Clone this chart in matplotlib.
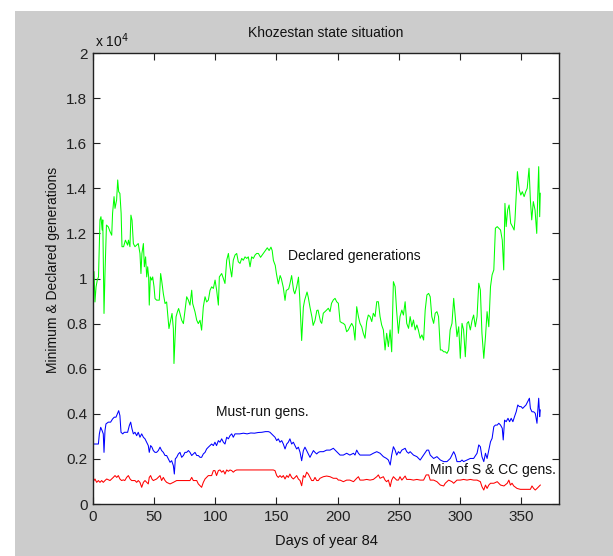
import matplotlib
matplotlib.use("Agg")
import matplotlib.pyplot as plt
from matplotlib.patches import Rectangle
from matplotlib.ticker import FuncFormatter
from matplotlib import font_manager

# ---------------- data ----------------
green_days = [0.8, 1.6, 2.5, 3.5, 4.5, 5.0, 5.7, 6.5, 7.5, 8.0, 9.0, 9.8, 11.0, 12.5, 14.0, 15.3, 16.0, 17.2,
              18.0, 19.3, 20.2, 21.0, 22.0, 23.0, 23.7, 25.0, 26.5, 28.3, 29.0, 30.2, 31.0, 31.9, 33.0, 34.3,
              35.7, 37.0, 38.4, 39.2, 40.0, 41.2, 42.0, 43.0, 43.9, 44.7, 45.5, 46.0, 46.9, 48.0, 48.8, 49.9,
              50.7, 52.0, 54.2, 55.3, 56.1, 57.5, 58.9, 60.2, 61.0, 62.1, 63.5, 64.6, 65.7, 66.2, 67.0, 67.9,
              69.0, 70.0, 71.1, 72.5, 73.9, 75.2, 76.6, 78.0, 79.3, 80.7, 81.5, 83.4, 84.8, 86.1, 87.5, 88.8,
              90.2, 91.6, 92.9, 94.3, 95.7, 97.0, 98.4, 99.8, 101.1, 102.5, 103.3, 105.2, 106.6, 107.9, 109.3,
              110.7, 112.0, 113.4, 114.7, 116.1, 117.5, 118.8, 120.2, 121.6, 122.9, 124.3, 125.7, 127.0, 128.4,
              129.7, 131.1, 132.5, 133.8, 135.2, 137.0, 139.0, 141.0, 142.5, 144.0, 145.5, 146.5, 147.5, 149.0,
              150.0, 151.5, 153.0, 154.0, 155.6, 157.0, 158.0, 160.0, 161.0, 162.4, 164.0, 165.0, 166.5, 168.0,
              169.0, 170.6, 172.0, 173.0, 175.0, 176.0, 177.4, 179.0, 180.0, 181.5, 183.0, 184.0, 186.0, 187.0,
              188.3, 189.7, 191.0, 192.4, 193.8, 195.0, 196.5, 197.9, 199.2, 200.6, 202.0, 203.3, 204.7, 206.0,
              207.4, 208.8, 210.0, 211.5, 212.9, 214.2, 215.6, 217.0, 218.3, 219.7, 221.0, 222.4, 223.8, 225.1,
              226.5, 227.9, 229.2, 230.6, 232.0, 233.3, 234.7, 236.0, 237.4, 238.8, 240.1, 241.5, 242.9, 244.2,
              245.6, 247.0, 248.3, 249.7, 251.0, 252.5, 253.8, 255.2, 256.5, 258.0, 259.3, 260.7, 262.0, 263.4,
              264.8, 266.0, 267.5, 268.9, 270.3, 271.6, 273.0, 274.4, 275.7, 277.0, 278.5, 279.8, 281.2, 282.5,
              284.0, 285.3, 286.7, 288.0, 289.4, 290.8, 292.0, 293.5, 294.9, 296.2, 297.6, 299.0, 300.3, 301.7,
              303.0, 304.4, 305.8, 307.0, 308.5, 310.0, 311.2, 312.6, 314.0, 315.4, 316.7, 318.0, 319.5, 320.9,
              322.2, 323.6, 325.0, 326.3, 327.7, 329.0, 330.5, 331.8, 333.2, 334.6, 335.8, 336.8, 337.8, 339.0,
              340.2, 341.5, 343.0, 344.3, 345.0, 346.0, 347.0, 348.5, 349.8, 351.0, 352.5, 353.8, 355.0, 356.5,
              357.6, 358.7, 360.0, 361.4, 362.8, 363.6, 364.4, 365.2, 365.7]
green_vals = [10300, 8960, 9630, 9930, 10070, 11100, 12600, 12740, 12150, 12600, 8450, 10220, 12370, 12290, 12070,
              11920, 12890, 13630, 13110, 13480, 14370, 13850, 13770, 12890, 11410, 11410, 11700, 11480, 11700,
              11410, 12810, 12590, 11550, 11410, 11480, 11550, 11110, 10220, 11110, 11550, 10520, 10960, 10070,
              10520, 10070, 8820, 10070, 9930, 10070, 9630, 9110, 9040, 9040, 10220, 9930, 9330, 8890, 8960, 8450,
              7780, 8150, 8450, 7780, 6230, 7260, 8300, 8520, 8670, 8450, 8150, 8000, 8590, 9190, 9040, 8820, 9480,
              8890, 8520, 8150, 8000, 8150, 7710, 8740, 9190, 8960, 9040, 9480, 9630, 9560, 9930, 9480, 8820,
              10070, 10220, 10000, 9780, 10810, 11110, 10520, 10070, 10810, 11040, 11110, 10740, 10670, 10890,
              10810, 10960, 10890, 10960, 10520, 10960, 10890, 11040, 11110, 11110, 10940, 11090, 11240, 11360,
              11240, 11390, 11240, 10800, 10580, 10200, 9760, 10130, 9990, 9600, 9030, 9470, 9540, 9760, 10130,
              9470, 9320, 9620, 10060, 9170, 7250, 8730, 9030, 9400, 9170, 8730, 8290, 7920, 8140, 8580, 8600,
              8090, 8010, 8460, 8530, 8600, 8680, 8530, 8900, 9050, 9120, 8970, 8900, 8090, 8040, 8010, 7940, 7640,
              7720, 7860, 8010, 7860, 7270, 8750, 8310, 8010, 7860, 7570, 7350, 8090, 8380, 8310, 8090, 8460, 8310,
              8970, 8970, 8310, 7940, 7720, 6830, 7570, 6980, 7720, 6750, 9860, 9640, 8530, 7570, 8310, 8600, 8380,
              8970, 8010, 7790, 8310, 7860, 8160, 7720, 7940, 7720, 7350, 7500, 7270, 8600, 9270, 9340, 9190, 8310,
              8010, 8460, 8530, 8310, 6830, 6830, 6750, 6750, 6680, 6830, 7720, 8010, 9120, 8310, 7420, 7860, 6460,
              8010, 7720, 6530, 8010, 8090, 7720, 8160, 8380, 7860, 8310, 9790, 9490, 7570, 6460, 7420, 8530, 7860,
              9640, 10160, 10380, 12230, 12300, 12230, 12150, 11710, 10380, 13330, 12300, 13040, 13260, 12450,
              12300, 12150, 12600, 13700, 14740, 13930, 13700, 13850, 13630, 13850, 14000, 14890, 13480, 12600,
              13410, 13040, 12000, 13630, 14960, 12740, 13780]

blue_days = [0.8, 3.0, 4.4, 5.2, 6.3, 7.4, 8.4, 9.0, 9.8, 10.6, 12.5, 14.4, 16.0, 17.4, 18.8, 19.9, 21.0, 22.0,
             22.9, 24.3, 25.6, 27.0, 28.3, 29.7, 30.8, 31.9, 33.0, 34.3, 35.7, 37.0, 38.4, 39.8, 41.2, 42.5,
             43.9, 45.2, 46.0, 47.1, 48.2, 49.3, 50.7, 52.0, 53.4, 54.8, 56.1, 57.5, 58.9, 60.2, 61.6, 63.0,
             64.3, 65.7, 66.5, 67.3, 68.4, 69.8, 71.1, 72.5, 73.9, 75.2, 76.6, 78.0, 79.3, 80.7, 82.0, 83.4,
             84.8, 86.1, 87.5, 88.8, 90.2, 91.6, 92.9, 94.3, 95.7, 97.0, 98.4, 99.7, 101.0, 102.5, 103.8, 105.2,
             106.6, 107.9, 109.3, 110.7, 112.0, 113.4, 114.7, 116.1, 117.5, 120.0, 123.0, 126.0, 129.0, 132.0,
             135.0, 138.0, 141.0, 143.4, 144.7, 146.0, 147.4, 148.8, 150.2, 151.5, 152.9, 154.3, 155.6, 157.0,
             158.4, 159.7, 161.0, 162.4, 163.8, 165.2, 166.5, 167.9, 169.3, 170.6, 172.0, 173.3, 174.7, 176.0,
             177.4, 178.8, 180.2, 181.5, 182.9, 184.2, 185.6, 188.3, 191.0, 193.8, 196.5, 198.0, 199.2, 200.6,
             202.0, 204.7, 207.4, 210.0, 213.0, 214.2, 215.6, 217.0, 218.3, 221.0, 223.8, 226.5, 229.2, 232.0,
             234.7, 237.4, 240.0, 241.5, 243.0, 244.2, 245.6, 247.0, 248.3, 249.7, 251.0, 252.5, 255.2, 256.5,
             258.0, 259.3, 262.0, 264.8, 267.5, 270.3, 273.0, 274.4, 275.7, 278.5, 281.2, 284.0, 286.7, 289.4,
             292.1, 294.9, 296.2, 297.6, 300.3, 301.7, 303.0, 305.8, 308.5, 311.2, 314.0, 315.4, 316.7, 318.0,
             319.5, 320.9, 322.2, 323.6, 325.0, 326.3, 327.7, 329.0, 330.5, 331.8, 333.2, 334.6, 335.4, 336.5,
             337.8, 339.3, 340.6, 341.9, 343.3, 344.6, 346.0, 347.3, 348.6, 350.0, 351.3, 352.7, 354.0, 355.4,
             356.8, 357.6, 358.9, 360.3, 361.6, 363.0, 363.5, 364.4, 365.2, 365.7]
blue_vals = [2660, 2660, 2660, 3110, 3400, 3260, 3110, 2290, 3260, 3550, 3630, 3630, 3770, 3850, 3850, 4000, 4140,
             3920, 3180, 3110, 3180, 3180, 3180, 3480, 3630, 3330, 3110, 3180, 3030, 3180, 2960, 3110, 2960, 2890,
             2740, 2590, 2290, 2590, 2520, 2370, 2290, 2290, 2370, 2520, 2370, 2290, 2150, 2150, 2000, 1850, 1920,
             1700, 1330, 2000, 2070, 2220, 2290, 2070, 2150, 2290, 2290, 2370, 2290, 2150, 2220, 2290, 2150, 2150,
             2070, 2070, 2220, 2290, 2440, 2520, 2590, 2660, 2590, 2740, 2590, 2810, 2740, 2890, 2740, 2660, 2960,
             2890, 3030, 3110, 2960, 3110, 3110, 3110, 3140, 3110, 3150, 3140, 3170, 3180, 3210, 3210, 3180, 3110,
             3030, 2960, 2810, 2890, 2740, 2810, 2660, 2440, 2660, 2740, 2890, 2660, 2740, 2590, 2440, 2520, 2290,
             1920, 2370, 2520, 2370, 2220, 2070, 2220, 2370, 2290, 2220, 2290, 2320, 2320, 2390, 2390, 2470, 2390,
             2320, 2250, 2170, 2170, 2250, 2170, 2250, 2170, 2390, 2250, 2170, 2170, 2170, 2170, 2250, 2320, 2250,
             2100, 2020, 1950, 1730, 2170, 2540, 2390, 2170, 2320, 2250, 2390, 2470, 2320, 2250, 2320, 2170, 2100,
             1950, 2170, 2390, 2390, 2170, 2020, 2100, 1950, 1880, 1880, 2020, 2320, 2170, 1880, 1880, 1950, 1880,
             1950, 2020, 2020, 2250, 2620, 2540, 2100, 1880, 2250, 2020, 2390, 2760, 2910, 3430, 3500, 3500, 3580,
             3500, 3360, 2840, 3720, 3650, 3800, 3650, 3800, 3650, 3870, 4090, 4390, 4320, 4320, 4240, 4320, 4390,
             4540, 4690, 4240, 4090, 4090, 4020, 3580, 4020, 4690, 3870, 4170]

red_days = [0.8, 1.6, 3.0, 4.4, 5.7, 7.1, 8.4, 9.8, 11.2, 13.9, 16.6, 18.0, 19.4, 20.7, 22.0, 23.4, 24.8, 26.0,
            27.5, 28.9, 30.3, 31.6, 33.0, 34.3, 35.7, 37.0, 38.4, 39.8, 41.2, 42.5, 43.9, 45.2, 46.0, 47.1, 48.2,
            49.3, 52.0, 54.8, 56.1, 57.5, 58.9, 60.2, 63.0, 65.7, 68.4, 71.1, 73.9, 76.6, 79.3, 80.7, 82.0, 84.8,
            86.1, 87.5, 88.8, 90.2, 91.6, 92.9, 94.3, 95.7, 97.0, 98.4, 99.7, 101.0, 102.5, 103.8, 105.2, 106.6,
            107.9, 109.3, 110.7, 112.0, 113.4, 114.7, 116.1, 117.5, 125.0, 135.0, 147.4, 148.8, 150.2, 151.5,
            152.9, 154.3, 155.6, 157.0, 158.4, 159.7, 161.0, 162.4, 163.8, 165.2, 166.5, 167.9, 169.3, 170.6,
            172.0, 173.3, 174.7, 176.0, 177.4, 178.8, 180.2, 181.5, 182.9, 184.2, 185.6, 188.3, 191.0, 193.8,
            196.5, 199.2, 200.6, 202.0, 204.7, 207.4, 210.0, 213.0, 215.6, 217.0, 218.3, 221.0, 223.8, 226.5,
            229.2, 232.0, 233.3, 234.7, 237.4, 238.8, 240.0, 241.5, 243.0, 244.2, 245.6, 248.3, 249.7, 251.0,
            252.5, 255.2, 256.5, 259.3, 262.0, 264.8, 267.5, 270.3, 272.4, 274.4, 275.7, 278.5, 281.2, 284.0,
            286.7, 288.0, 289.4, 290.8, 293.5, 294.9, 296.2, 297.6, 300.3, 303.0, 305.8, 308.5, 311.2, 314.0,
            316.7, 318.0, 319.5, 320.9, 322.2, 323.6, 325.0, 327.7, 330.5, 333.2, 336.0, 338.7, 340.0, 341.3,
            342.6, 344.0, 346.7, 349.4, 352.2, 354.9, 357.6, 358.9, 360.3, 361.6, 363.0, 364.4, 365.7]
red_vals = [1040, 1110, 960, 1040, 960, 1040, 960, 1040, 1110, 1040, 1180, 1260, 1180, 1260, 1110, 1040, 1070, 1040,
            1180, 1260, 1110, 1040, 1040, 1040, 960, 1040, 960, 740, 960, 1040, 960, 890, 1180, 1260, 1110, 1040,
            1110, 1260, 1040, 1180, 1040, 960, 890, 960, 1040, 1040, 1040, 1040, 1040, 1180, 1040, 1040, 890, 810,
            740, 960, 1110, 1180, 1260, 1260, 1260, 1480, 1480, 1260, 1480, 1510, 1410, 1480, 1330, 1510, 1450,
            1510, 1480, 1410, 1480, 1510, 1510, 1510, 1510, 1480, 1260, 1180, 1260, 1180, 1260, 1110, 1260, 1180,
            1330, 1180, 1110, 1180, 1260, 1110, 1040, 810, 1260, 1180, 1410, 1330, 1180, 1040, 1040, 1180, 1040,
            1040, 1140, 1210, 1240, 1210, 1140, 1140, 1060, 1060, 990, 1060, 1060, 990, 1140, 1210, 1060, 1060,
            1090, 1060, 1090, 1210, 1290, 1140, 1210, 1060, 990, 1060, 770, 1060, 1210, 1060, 1060, 1210, 1060,
            1240, 1090, 1090, 1060, 1090, 1060, 1060, 1290, 1290, 1060, 1060, 990, 840, 800, 920, 990, 1060, 990,
            920, 990, 1060, 1060, 1090, 1060, 1090, 1060, 1060, 990, 770, 620, 840, 690, 840, 920, 920, 990, 840,
            800, 920, 1060, 840, 920, 800, 690, 650, 650, 650, 650, 800, 690, 620, 690, 770, 840]

title_text = "Khozestan state situation"
xlabel_text = "Days of year 84"
ylabel_text = "Minimum & Declared generations"
x_ticks = [0, 50, 100, 150, 200, 250, 300, 350]
y_ticks = [0, 2000, 4000, 6000, 8000, 10000, 12000, 14000, 16000, 18000, 20000]
label_declared = "Declared generations"
label_mustrun = "Must-run gens."
label_min = "Min of S & CC gens."

# ---------------- style ----------------
names = {f.name for f in font_manager.fontManager.ttflist}
fam = [n for n in ["Liberation Sans Narrow", "Liberation Sans", "DejaVu Sans"] if n in names]
plt.rcParams["font.family"] = fam
FS = 10

W, H = 613, 556
fig = plt.figure(figsize=(W / 100, H / 100), dpi=100, facecolor="white")
fig.patches.append(Rectangle((15 / W, 0), 1 - 15 / W, (H - 11) / H, transform=fig.transFigure,
                             facecolor="#cccccc", edgecolor="none", zorder=-10))

ax = fig.add_axes([93 / W, 1 - 504 / H, (559 - 93) / W, (504 - 53) / H])
ax.set_facecolor("white")

ax.plot(green_days, green_vals, color="#00ff00", lw=0.75)
ax.plot(blue_days, blue_vals, color="#0000ff", lw=0.75)
ax.plot(red_days, red_vals, color="#ff0000", lw=0.75)

ax.set_xlim(0, 381)
ax.set_ylim(0, 20000)
ax.set_xticks(x_ticks)
ax.set_yticks(y_ticks)
ax.yaxis.set_major_formatter(FuncFormatter(lambda v, p: "%g" % (v / 1e4)))
ax.tick_params(direction="in", length=5, width=0.8, top=True, right=True, labelsize=FS + 1,
               colors="#222222", pad=4)
for s in ax.spines.values():
    s.set_linewidth(1.0)
    s.set_color("#222222")

ax.text(159.5, 11000, label_declared, fontsize=FS, va="center", ha="left", color="#111111")
ax.text(100.6, 4080, label_mustrun, fontsize=FS, va="center", ha="left", color="#111111")
ax.text(275.6, 1510, label_min, fontsize=FS, va="center", ha="left", color="#111111")

fig.text(326 / W, 1 - 33 / H, title_text, fontsize=FS, ha="center", va="center", color="#111111")
fig.text(95 / W, 1 - 41 / H, r"x 10$^{4}$", fontsize=FS, ha="left", va="center", color="#111111")
fig.text(326 / W, 1 - 541 / H, xlabel_text, fontsize=FS + 0.5, ha="center", va="center", color="#111111")
fig.text(53 / W, 1 - 270 / H, ylabel_text, fontsize=FS, ha="center", va="center", rotation=90,
         color="#111111")

fig.savefig("out.png", dpi=100, facecolor="white")
